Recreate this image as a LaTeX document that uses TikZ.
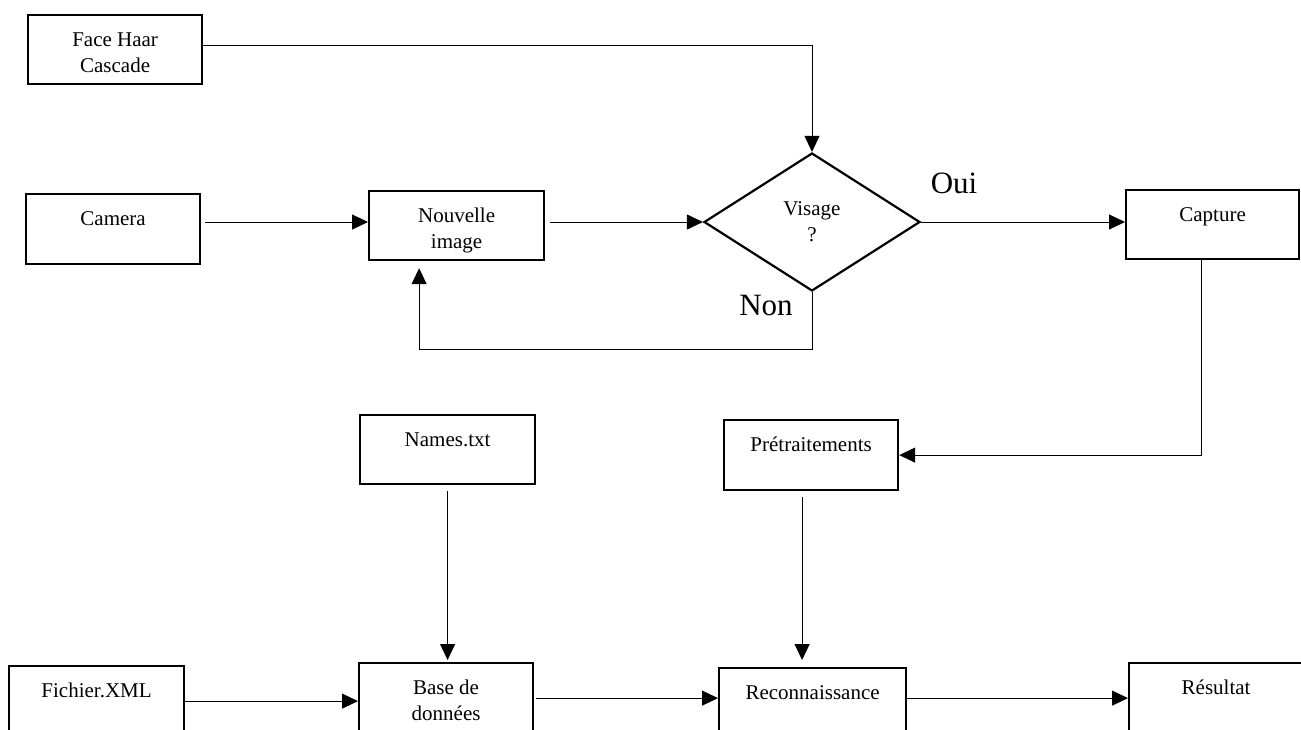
\documentclass[tikz,border=0pt]{standalone}
\usepackage{fontspec}
\setmainfont{Liberation Serif}
\usetikzlibrary{arrows.meta,shapes.geometric}
% box body: fixed-size paragraph with the text near the top
\newcommand\cellbody[3]{\parbox[t][#2][t]{#1}{\centering\rule{0pt}{15.5pt}#3}}

\begin{document}
\begin{tikzpicture}[x=0.5pt,y=-0.5pt,
  every node/.style={font=\fontsize{10.5pt}{13pt}\selectfont},
  stepbox/.style={draw,line width=1.1pt,inner sep=0pt,anchor=north west},
  decision/.style={draw,diamond,line width=1.1pt,inner sep=0pt,
    minimum width=108pt,minimum height=69pt,align=center},
  conn/.style={line width=0.5pt,-{Triangle[length=8pt,width=7.5pt]}},
  answer/.style={font=\fontsize{15.5pt}{18pt}\selectfont}]

\useasboundingbox (0,0) rectangle (1301,729);
\clip (0,0) rectangle (1301,729);

% acquisition and detection
\node[stepbox] (haar)  at (27,14)   {\cellbody{87pt}{34.5pt}{Face Haar\\Cascade}};
\node[stepbox] (cam)   at (25,193)  {\cellbody{87pt}{35pt}{Camera}};
\node[stepbox] (nouv)  at (368,190) {\cellbody{87.5pt}{34.5pt}{Nouvelle\\image}};
\node[decision] (dec)  at (812,222) {Visage\\?};
\node[stepbox] (cap)   at (1125,189){\cellbody{86.5pt}{34.5pt}{Capture}};
\node[answer] (oui) at (954,183) {Oui};
\node[answer] (non) at (766,305) {Non};

% recognition
\node[stepbox] (names) at (359,414) {\cellbody{87.5pt}{34.5pt}{Names.txt}};
\node[stepbox] (pre)   at (723,419) {\cellbody{87pt}{35pt}{Prétraitements}};
\node[stepbox] (fich)  at (8,665)   {\cellbody{87.5pt}{35pt}{Fichier.XML}};
\node[stepbox] (base)  at (358,662) {\cellbody{87pt}{35pt}{Base de\\données}};
\node[stepbox] (rec)   at (718,667) {\cellbody{93.5pt}{35pt}{Reconnaissance}};
\node[stepbox] (res)   at (1128,662){\cellbody{87pt}{35pt}{Résultat}};

% connectors
\draw[conn] ([yshift=2.25pt]haar.east) -| (dec.north);
\draw[conn,shorten <=2pt] (cam.east |- dec.west) -- (nouv.west |- dec.west);
\draw[conn,shorten <=2.5pt] (nouv.east |- dec.west) -- (dec.west);
\draw[conn] (dec.east) -- (dec.east -| cap.west);
\draw[conn,shorten >=3.5pt] (dec.south) -- ++(0,57) -| ([xshift=-18.75pt]nouv.south);
\draw[conn] ([xshift=-5.75pt]cap.south) |- (pre.east);
\draw[conn,shorten <=3pt,shorten >=3.5pt] ([xshift=-4.5pt]pre.south) -- ([xshift=-4.5pt]pre.south |- rec.north);
\draw[conn,shorten <=3pt,shorten >=1pt] (names.south) -- (names.south |- base.north);
\draw[conn] (fich.east) -- (fich.east -| base.west);
\draw[conn,shorten <=1pt] (base.east) -- (base.east -| rec.west);
\draw[conn] (rec.east |- res.west) -- (res.west);
\end{tikzpicture}
\end{document}
